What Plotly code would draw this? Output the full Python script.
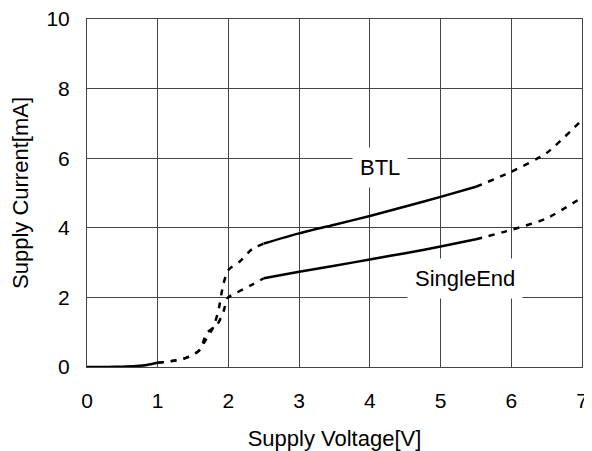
import plotly.graph_objects as go

# Common solid segment (both modes)
common_x = [0, 0.3, 0.5, 0.7, 0.85, 1.0]
common_y = [0.0, 0.0, 0.01, 0.03, 0.06, 0.12]

# BTL
btl_low_x = [1.0, 1.2, 1.4, 1.57, 1.68, 1.79, 1.86, 1.93, 2.0, 2.16, 2.33, 2.5]
btl_low_y = [0.12, 0.17, 0.26, 0.44, 0.78, 1.16, 1.64, 2.40, 2.79, 3.03, 3.38, 3.55]
btl_mid_x = [2.5, 3.0, 3.5, 4.0, 4.5, 5.0, 5.5]
btl_mid_y = [3.55, 3.84, 4.09, 4.34, 4.61, 4.89, 5.18]
btl_high_x = [5.5, 6.0, 6.5, 7.0]
btl_high_y = [5.18, 5.61, 6.15, 7.10]

# SingleEnd
se_low_x = [1.0, 1.2, 1.4, 1.6, 1.69, 1.84, 1.93, 1.99, 2.12, 2.33, 2.5]
se_low_y = [0.12, 0.17, 0.26, 0.5, 0.97, 1.21, 1.59, 1.99, 2.14, 2.36, 2.55]
se_mid_x = [2.5, 3.0, 3.5, 4.0, 4.5, 5.0, 5.5]
se_mid_y = [2.55, 2.74, 2.91, 3.09, 3.27, 3.46, 3.67]
se_high_x = [5.5, 6.0, 6.5, 7.0]
se_high_y = [3.67, 3.94, 4.27, 4.87]

x_ticks = [0, 1, 2, 3, 4, 5, 6, 7]
y_ticks = [0, 2, 4, 6, 8, 10]

fig = go.Figure()
solid = dict(color="black", width=2.5)
dashed = dict(color="black", width=2.5, dash="6px,7px")
for xs, ys, ln in [
    (common_x, common_y, solid),
    (btl_low_x, btl_low_y, dashed),
    (btl_mid_x, btl_mid_y, solid),
    (btl_high_x, btl_high_y, dashed),
    (se_low_x, se_low_y, dashed),
    (se_mid_x, se_mid_y, solid),
    (se_high_x, se_high_y, dashed),
]:
    fig.add_trace(go.Scatter(x=xs, y=ys, mode="lines", line=dict(shape="spline", smoothing=0.6, **ln),
                             showlegend=False, hoverinfo="skip", cliponaxis=False))

font = dict(family="Liberation Sans, Arial, sans-serif", size=22, color="black")
tfont = dict(family="Liberation Sans, Arial, sans-serif", size=21, color="black")
fig.add_annotation(x=4.14, y=5.72, text="BTL", showarrow=False, bgcolor="white", borderpad=7, font=font)
fig.add_annotation(x=5.35, y=2.53, text="SingleEnd", showarrow=False, bgcolor="white", borderpad=7, font=font)

axis_common = dict(showgrid=True, gridcolor="#444444", gridwidth=1, showline=True, linecolor="#444444",
                   linewidth=1, mirror=True, ticks="", zeroline=False, tickfont=tfont, automargin=False,
                   ticklabeloverflow="allow")
fig.update_xaxes(range=[0, 7], tickvals=x_ticks, ticklabelstandoff=15,
                 title=dict(text="Supply Voltage[V]", font=font, standoff=19), **axis_common)
fig.update_yaxes(range=[0, 10], tickvals=y_ticks, ticklabelstandoff=12,
                 title=dict(text="Supply Current[mA]", font=font, standoff=21), **axis_common)
# page body adds an 8px offset, so the figure is sized to fit the window
fig.update_layout(width=584, height=443, margin=dict(l=79, r=10, t=11, b=84),
                  plot_bgcolor="white", paper_bgcolor="white", font=font)
fig.write_html("out.html")
